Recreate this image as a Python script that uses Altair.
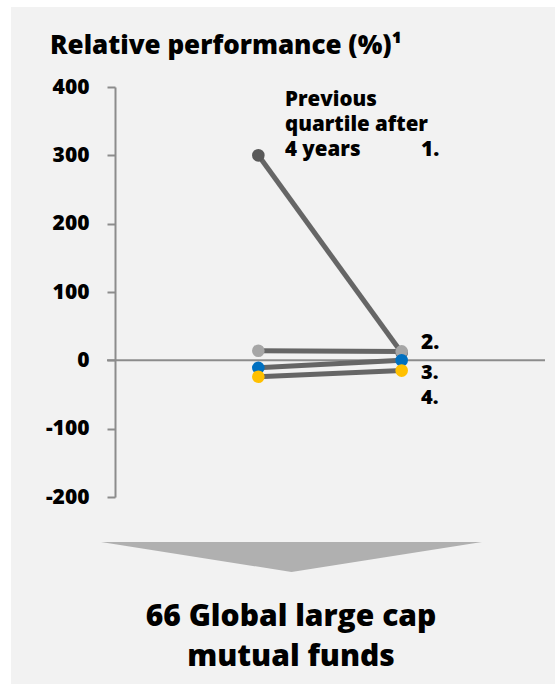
import altair as alt
import pandas as pd

# Relative performance of each starting quartile, now vs. after 4 years
quartiles = ["1.", "2.", "3.", "4."]
start_values = [300, 14, -11, -24]
after_values = [11, 13, 0, -15]
dot_colors = ["#595959", "#a6a6a6", "#0070c0", "#ffc000"]
y_ticks = [-200, -100, 0, 100, 200, 300, 400]

FONT = "Open Sans"
WEIGHT = 800
W, H = 430, 410

rows = []
for q, s, a in zip(quartiles, start_values, after_values):
    rows.append({"quartile": q, "period": 0, "value": s})
    rows.append({"quartile": q, "period": 1, "value": a})
df = pd.DataFrame(rows)

x_scale = alt.Scale(domain=[-1, 2])
y_scale = alt.Scale(domain=[-200, 400])

one = pd.DataFrame({"k": [0]})

panel = alt.Chart(one).mark_rect(color="#f2f2f2").encode(
    x=alt.value(-104), x2=alt.value(440), y=alt.value(-80), y2=alt.value(597)
)

zero_line = alt.Chart(one).mark_rule(color="#8c8c8c", strokeWidth=2).encode(
    y=alt.datum(0, scale=y_scale), x=alt.value(-8), x2=alt.value(W)
)

y_axis = alt.Axis(
    values=y_ticks, grid=False, title=None, zindex=1,
    labelExpr="datum.value < 0 ? '-' + abs(datum.value) : '' + datum.value",
    tickSize=8, tickWidth=2, tickColor="#8c8c8c",
    domainColor="#8c8c8c", domainWidth=2,
    labelFont=FONT, labelFontWeight=WEIGHT, labelFontSize=21,
    labelColor="black", labelPadding=18,
)

lines = alt.Chart(df).mark_line(color="#666666", strokeWidth=5).encode(
    x=alt.X("period:Q", scale=x_scale, axis=None),
    y=alt.Y("value:Q", scale=y_scale, axis=y_axis),
    detail="quartile:N",
)

dots = alt.Chart(df).mark_circle(size=160, opacity=1).encode(
    x=alt.X("period:Q", scale=x_scale, axis=None),
    y=alt.Y("value:Q", scale=y_scale),
    color=alt.Color("quartile:N", scale=alt.Scale(domain=quartiles, range=dot_colors), legend=None),
)

def label(text, x, y, size=18, align="left"):
    return alt.Chart(one).mark_text(
        text=text, font=FONT, fontWeight=WEIGHT, fontSize=size, color="black",
        align=align, baseline="alphabetic", lineHeight=25,
    ).encode(x=alt.value(x), y=alt.value(y))

title = label("Relative performance (%)¹", -65, -33, size=26)
header = label(["Previous", "quartile after", "4 years"], 170, 19, size=20.5)
q_labels = [
    label(quartiles[0], 306, 69, size=21),
    label(quartiles[1], 306, 262, size=21),
    label(quartiles[2], 306, 292, size=20),
    label(quartiles[3], 306, 317, size=20),
]

arrow = alt.Chart(one).mark_point(
    shape="M-1,-0.0787L1,-0.0787L0,0.0787Z", size=381 * 381,
    filled=True, fill="#b0b0b0", stroke=None, opacity=1,
).encode(x=alt.value(176.5), y=alt.value(470))

footer = alt.Chart(one).mark_text(
    text=["66 Global large cap", "mutual funds"], font=FONT, fontWeight=WEIGHT,
    fontSize=30, color="black", align="center", baseline="alphabetic", lineHeight=40,
).encode(x=alt.value(176), y=alt.value(539))

chart = alt.layer(
    panel, zero_line, lines, dots, title, header, *q_labels, arrow, footer
).properties(
    width=W, height=H,
    padding={"left": 115, "top": 87, "right": 10, "bottom": 187},
    autosize=alt.AutoSizeParams(type="none"),
    background="white",
).configure_view(stroke=None)

chart.save("out.html", embed_options={"renderer": "svg", "actions": False})
